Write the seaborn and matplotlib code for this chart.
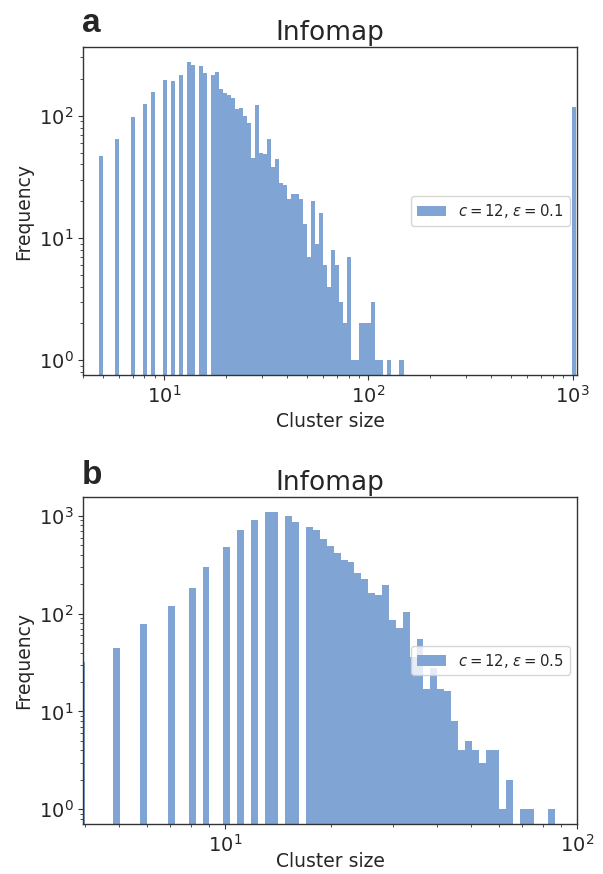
import numpy as np
import matplotlib
matplotlib.use("Agg")
import matplotlib.pyplot as plt
import seaborn as sns

# ---------------- data (one representative cluster size per histogram bin) ----------------
sizes_a = [5, 6, 7, 8, 9, 10, 11, 12, 13, 14, 15, 16,
           17, 18, 19, 20, 21, 22, 23, 24, 25, 26, 27, 29, 30, 31, 33, 34, 36, 37,
           39, 41, 42, 44, 46, 49, 51, 53, 55, 58, 61, 63, 66, 69, 73, 76, 79, 83,
           87, 91, 95, 100, 104, 109, 114, 124, 142, 1000]
freq_a = [47, 64, 97, 124, 156, 196, 192, 215, 276, 260, 256, 224,
          215, 228, 165, 153, 147, 139, 113, 115, 99, 88, 45, 122, 50, 49, 65, 38, 44, 28,
          27, 21, 23, 23, 21, 13, 7, 20, 9, 16, 6, 4, 8, 6, 3, 2, 7, 1,
          1, 2, 2, 2, 3, 1, 1, 1, 1, 119]

sizes_b = [4, 5, 6, 7, 8, 9, 10, 11, 12, 13, 14, 15, 16,
           17, 18, 19, 20, 21, 22, 23, 24, 25, 26, 27, 29, 30, 31, 33, 34, 36, 37,
           39, 41, 42, 44, 46, 49, 51, 53, 55, 58, 61, 63, 69, 73, 83]
freq_b = [32, 45, 78, 119, 183, 300, 481, 718, 910, 1100, 1100, 1000, 867,
          771, 718, 581, 492, 418, 354, 338, 261, 226, 162, 155, 196, 86, 71, 104, 36, 55, 17,
          28, 17, 16, 8, 4, 5, 4, 3, 4, 4, 1, 2, 1, 1, 1]

label_a = r"$c = 12$, $\varepsilon = 0.1$"
label_b = r"$c = 12$, $\varepsilon = 0.5$"
title_text = "Infomap"
xlabel_text = "Cluster size"
ylabel_text = "Frequency"
panel_a = "a"
panel_b = "b"

# ---------------- style ----------------
sns.set_style("ticks")
plt.rcParams["font.family"] = ["DejaVu Sans"]
plt.rcParams["axes.edgecolor"] = "#333333"
plt.rcParams["axes.linewidth"] = 1.0

bar_color = "#80a4d4"
# log10-spaced bin edges (51 per decade), given in log space for seaborn's log_scale
log_bins = ((np.arange(155) - 0.25) / 51).tolist()

W, H = 603, 874
fig = plt.figure(figsize=(W / 100, H / 100), dpi=100)
ax_a = fig.add_axes([83 / W, 1 - 375 / H, (577 - 83) / W, (375 - 47) / H])
ax_b = fig.add_axes([83 / W, 1 - 824 / H, (577 - 83) / W, (824 - 497) / H])


def draw(ax, sizes, freqs, label, xlim, xlabelpad):
    sns.histplot(x=sizes, weights=freqs, bins=log_bins, log_scale=True,
                 color=bar_color, alpha=1.0, linewidth=0, edgecolor="none",
                 label=label, ax=ax)
    ax.set_yscale("log")
    lo, hi = 0.0, np.log10(max(freqs))
    m = 0.05 * (hi - lo)
    ax.set_ylim(10 ** (lo - m), 10 ** (hi + m))
    ax.set_xlim(*xlim)
    ax.set_title(title_text, fontsize=19, pad=5)
    ax.set_xlabel(xlabel_text, fontsize=13.5, labelpad=xlabelpad)
    ax.set_ylabel(ylabel_text, fontsize=13.5)
    ax.tick_params(which="major", length=3.5, width=0.8, labelsize=14, color="#333333")
    ax.tick_params(which="minor", length=2, width=0.6, color="#333333")
    ax.legend(loc="center right", fontsize=10.7)


draw(ax_a, sizes_a, freq_a, label_a, (4, 1050), 4)
draw(ax_b, sizes_b, freq_b, label_b, (3.95, 100), -2.5)

fig.text(82 / W, 1 - 31.5 / H, panel_a, fontsize=24, fontweight="bold",
         family=["Liberation Sans"], ha="left", va="baseline")
fig.text(82 / W, 1 - 484 / H, panel_b, fontsize=24, fontweight="bold",
         family=["Liberation Sans"], ha="left", va="baseline")

fig.savefig("out.png", dpi=100)
